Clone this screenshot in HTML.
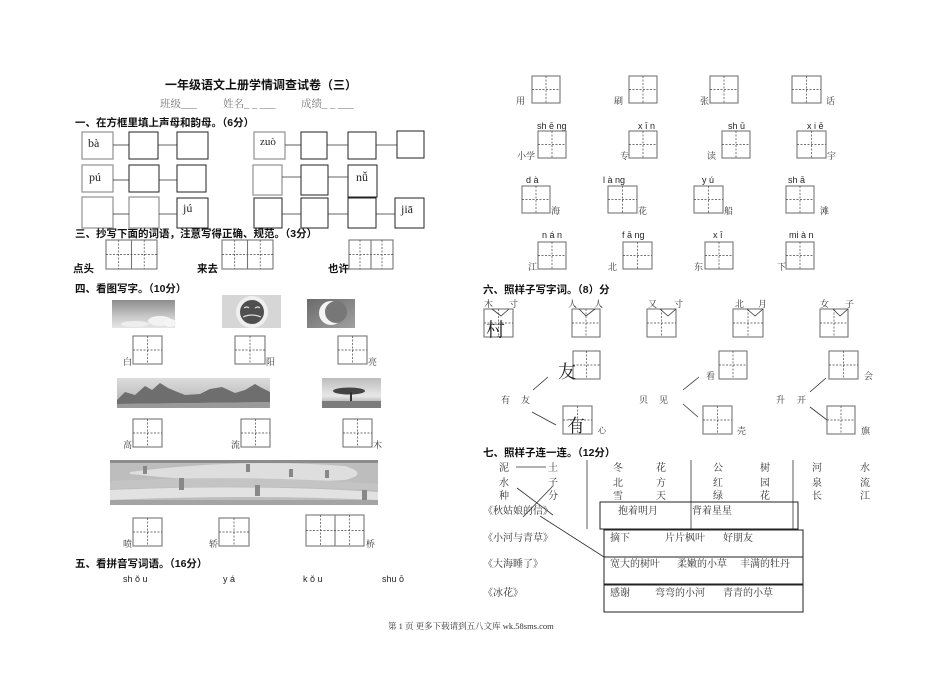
<!DOCTYPE html>
<html><head><meta charset="utf-8">
<style>
html,body{margin:0;padding:0;background:#fff;}
svg{display:block;}
.t{font-family:"Liberation Serif","Noto Serif CJK SC",serif;fill:#222;}
.h{font-family:"Liberation Sans","Noto Sans CJK SC",sans-serif;font-weight:bold;font-size:10.5px;fill:#111;}
.s{font-family:"Liberation Serif","Noto Serif CJK SC",serif;font-size:9px;fill:#333;}
.p{font-family:"Liberation Sans","DejaVu Sans",sans-serif;font-size:9px;fill:#222;}
.py{font-family:"Liberation Serif",serif;font-size:12px;fill:#222;}
.b{fill:none;stroke:#222;stroke-width:1;}
.bg{fill:none;stroke:#999;stroke-width:1.3;}
.g{fill:none;stroke:#777;stroke-width:1.1;}
.d{stroke:#444;stroke-width:0.7;stroke-dasharray:2,1.5;}
.l{stroke:#333;stroke-width:0.8;}
.k{font-family:"Liberation Serif","Noto Serif CJK SC",serif;font-size:10px;fill:#333;}
</style></head>
<body>
<svg width="950" height="675" viewBox="0 0 950 675" xmlns="http://www.w3.org/2000/svg">
<defs>
<linearGradient id="sky" x1="0" y1="0" x2="0" y2="1"><stop offset="0" stop-color="#8d8d8d"/><stop offset="0.6" stop-color="#c9c9c9"/><stop offset="1" stop-color="#e6e6e6"/></linearGradient>
<linearGradient id="moonbg" x1="0" y1="0" x2="1" y2="1"><stop offset="0" stop-color="#6a6a6a"/><stop offset="1" stop-color="#a0a0a0"/></linearGradient>
<linearGradient id="treebg" x1="0" y1="0" x2="0" y2="1"><stop offset="0" stop-color="#bdbdbd"/><stop offset="0.6" stop-color="#e8e8e8"/><stop offset="1" stop-color="#8a8a8a"/></linearGradient>
<linearGradient id="land" x1="0" y1="0" x2="0" y2="1"><stop offset="0" stop-color="#dcdcdc"/><stop offset="1" stop-color="#b0b0b0"/></linearGradient>
</defs>

<!-- Title -->
<text x="165" y="89" class="t" style="font-size:12px;font-weight:bold;fill:#111;font-family:'Noto Sans CJK SC',sans-serif">一年级语文上册学情调查试卷（三）</text>
<text x="160" y="107" class="t" style="font-size:10.5px;fill:#777">班级___</text>
<text x="223" y="107" class="t" style="font-size:10.5px;fill:#777">姓名_ _ ___</text>
<text x="301" y="107" class="t" style="font-size:10.5px;fill:#777">成绩_ _ ___</text>

<!-- Section 1 -->
<text x="75" y="126" class="h">一、在方框里填上声母和韵母。（6分）</text>
<rect x="82" y="132" width="31" height="27" class="bg"/><text x="88" y="147" class="py">bà</text>
<rect x="129" y="132" width="29" height="27" class="b"/>
<rect x="177" y="132" width="31" height="27" class="b"/>
<line x1="113" y1="145" x2="129" y2="145" class="l"/><line x1="158" y1="145" x2="177" y2="145" class="l"/>
<rect x="254" y="132" width="31" height="27" class="bg"/><text x="260" y="145" class="py" style="font-size:11px">zuò</text>
<rect x="301" y="132" width="26" height="27" class="b"/>
<rect x="348" y="132" width="28" height="27" class="b"/>
<rect x="397" y="131" width="27" height="27" class="b"/>
<line x1="285" y1="145" x2="301" y2="145" class="l"/><line x1="327" y1="145" x2="348" y2="145" class="l"/><line x1="376" y1="145" x2="397" y2="145" class="l"/>
<rect x="82" y="165" width="31" height="27" class="bg"/><text x="89" y="181" class="py">pú</text>
<rect x="129" y="165" width="30" height="27" class="b"/>
<rect x="177" y="165" width="29" height="27" class="b"/>
<line x1="113" y1="180" x2="129" y2="180" class="l"/><line x1="159" y1="180" x2="177" y2="180" class="l"/>
<rect x="253" y="165" width="29" height="30" class="bg"/>
<rect x="301" y="165" width="27" height="30" class="b"/>
<rect x="348" y="165" width="29" height="32" class="b"/><text x="356" y="181" class="py">nǚ</text>
<line x1="282" y1="177" x2="301" y2="177" class="l"/><line x1="328" y1="177" x2="348" y2="177" class="l"/>
<rect x="82" y="197" width="31" height="31" class="bg"/>
<rect x="129" y="197" width="30" height="31" class="bg"/>
<rect x="177" y="198" width="31" height="30" class="b"/><text x="183" y="212" class="py">jú</text>
<line x1="113" y1="214" x2="129" y2="214" class="l"/><line x1="159" y1="214" x2="177" y2="214" class="l"/>
<rect x="254" y="198" width="28" height="30" class="b"/>
<rect x="301" y="198" width="27" height="30" class="b"/>
<rect x="348" y="198" width="28" height="30" class="b"/>
<rect x="395" y="198" width="29" height="30" class="b"/><text x="401" y="213" class="py">jiā</text>
<line x1="282" y1="214" x2="301" y2="214" class="l"/><line x1="328" y1="214" x2="348" y2="214" class="l"/><line x1="376" y1="214" x2="395" y2="214" class="l"/>

<!-- Section 3 -->
<text x="75" y="237" class="h">三、抄写下面的词语，注意写得正确、规范。（3分）</text>
<text x="73" y="272" class="h">点头</text>
<rect x="106" y="240" width="51" height="29" class="g"/><line x1="131.5" y1="240" x2="131.5" y2="269" class="g"/>
<line x1="118.7" y1="240" x2="118.7" y2="269" class="d"/><line x1="144.2" y1="240" x2="144.2" y2="269" class="d"/><line x1="106" y1="254.5" x2="157" y2="254.5" class="d"/>
<text x="197" y="272" class="h">来去</text>
<rect x="222" y="240" width="51" height="29" class="g"/><line x1="247.5" y1="240" x2="247.5" y2="269" class="g"/>
<line x1="234.7" y1="240" x2="234.7" y2="269" class="d"/><line x1="260.2" y1="240" x2="260.2" y2="269" class="d"/><line x1="222" y1="254.5" x2="273" y2="254.5" class="d"/>
<text x="328" y="272" class="h">也许</text>
<rect x="349" y="240" width="44" height="29" class="g"/><line x1="371" y1="240" x2="371" y2="269" class="g"/>
<line x1="360" y1="240" x2="360" y2="269" class="d"/><line x1="382" y1="240" x2="382" y2="269" class="d"/><line x1="349" y1="254.5" x2="393" y2="254.5" class="d"/>

<!-- Section 4 -->
<text x="75" y="292" class="h">四、看图写字。（10分）</text>
<rect x="112" y="300" width="63" height="28" fill="url(#sky)"/>
<ellipse cx="160" cy="321" rx="12" ry="5" fill="#f2f2f2"/><ellipse cx="135" cy="324" rx="14" ry="3" fill="#eee"/><ellipse cx="170" cy="323" rx="6" ry="4" fill="#f5f5f5"/>
<rect x="222" y="295" width="59" height="33" fill="#d6d6d6"/>
<circle cx="252" cy="312" r="16" fill="#efefef"/>
<circle cx="252" cy="312" r="12" fill="#4f4f4f"/>
<path d="M244 308 q3 -2 5 0 M255 308 q3 -2 5 0 M243 317 q9 -4 18 0" stroke="#ddd" stroke-width="1.2" fill="none"/>
<rect x="307" y="299" width="48" height="29" fill="url(#moonbg)"/>
<circle cx="331" cy="313" r="12" fill="#f4f4f4"/>
<circle cx="336" cy="312" r="11" fill="#777"/>
<rect x="133" y="336" width="29" height="28" class="g"/><line x1="147.5" y1="336" x2="147.5" y2="364" class="d"/><line x1="133" y1="350" x2="162" y2="350" class="d"/>
<text x="123" y="365" class="s">白</text>
<rect x="235" y="336" width="30" height="28" class="g"/><line x1="250" y1="336" x2="250" y2="364" class="d"/><line x1="235" y1="350" x2="265" y2="350" class="d"/>
<text x="266" y="365" class="s">阳</text>
<rect x="338" y="336" width="29" height="28" class="g"/><line x1="352.5" y1="336" x2="352.5" y2="364" class="d"/><line x1="338" y1="350" x2="367" y2="350" class="d"/>
<text x="368" y="365" class="s">亮</text>
<rect x="117" y="378" width="153" height="30" fill="url(#land)"/>
<path d="M117 400 L125 392 L135 395 L145 386 L152 390 L160 383 L168 388 L175 391 L185 395 L200 394 L210 389 L222 387 L235 393 L245 390 L255 384 L262 388 L270 392 L270 402 L117 404 Z" fill="#6e6e6e"/>
<path d="M117 404 L270 402 L270 408 L117 408 Z" fill="#9a9a9a"/>
<rect x="322" y="378" width="59" height="30" fill="url(#treebg)"/>
<ellipse cx="349" cy="391" rx="16" ry="3.5" fill="#444"/>
<line x1="351" y1="392" x2="351" y2="402" stroke="#333" stroke-width="2"/>
<rect x="322" y="401" width="59" height="7" fill="#7c7c7c"/>
<rect x="133" y="419" width="29" height="28" class="g"/><line x1="147.5" y1="419" x2="147.5" y2="447" class="d"/><line x1="133" y1="433" x2="162" y2="433" class="d"/>
<text x="123" y="448" class="s">高</text>
<rect x="241" y="419" width="29" height="28" class="g"/><line x1="255.5" y1="419" x2="255.5" y2="447" class="d"/><line x1="241" y1="433" x2="270" y2="433" class="d"/>
<text x="231" y="448" class="s">流</text>
<rect x="343" y="419" width="29" height="28" class="g"/><line x1="357.5" y1="419" x2="357.5" y2="447" class="d"/><line x1="343" y1="433" x2="372" y2="433" class="d"/>
<text x="373" y="448" class="s">木</text>
<rect x="110" y="460" width="268" height="45" fill="#bdbdbd"/>
<path d="M130 472 Q240 458 345 466 Q370 474 345 480 Q240 486 130 474 Z" fill="#dedede"/>
<path d="M110 481 Q250 474 378 484 L378 490 Q250 484 110 489 Z" fill="#c4c4c4"/>
<path d="M110 490 Q250 484 378 492 L378 500 Q250 494 110 500 Z" fill="#e2e2e2"/>
<rect x="110" y="460" width="268" height="3" fill="#8c8c8c"/>
<rect x="179" y="478" width="5" height="12" fill="#888"/><rect x="255" y="485" width="5" height="11" fill="#888"/><rect x="143" y="466" width="4" height="8" fill="#888"/><rect x="246" y="464" width="4" height="8" fill="#888"/><rect x="289" y="469" width="4" height="8" fill="#888"/><rect x="325" y="470" width="4" height="8" fill="#888"/><rect x="362" y="490" width="5" height="12" fill="#888"/>
<rect x="110" y="500" width="268" height="5" fill="#a4a4a4"/>
<rect x="133" y="518" width="29" height="28" class="g"/><line x1="147.5" y1="518" x2="147.5" y2="546" class="d"/><line x1="133" y1="532" x2="162" y2="532" class="d"/>
<text x="123" y="547" class="s">喷</text>
<rect x="219" y="518" width="30" height="28" class="g"/><line x1="234" y1="518" x2="234" y2="546" class="d"/><line x1="219" y1="532" x2="249" y2="532" class="d"/>
<text x="209" y="547" class="s">轿</text>
<rect x="306" y="515" width="58" height="31" class="g"/><line x1="335" y1="515" x2="335" y2="546" class="g"/>
<line x1="320.5" y1="515" x2="320.5" y2="546" class="d"/><line x1="349.5" y1="515" x2="349.5" y2="546" class="d"/><line x1="306" y1="530.5" x2="364" y2="530.5" class="d"/>
<text x="366" y="547" class="s">桥</text>

<!-- Section 5 -->
<text x="75" y="567" class="h">五、看拼音写词语。（16分）</text>
<text x="123" y="582" class="p">sh ǒ u</text>
<text x="223" y="582" class="p">y á</text>
<text x="303" y="582" class="p">k ǒ u</text>
<text x="382" y="582" class="p">shu ō</text>

<!-- Right column grids -->
<rect x="532" y="76" width="28" height="27" class="g"/><line x1="546" y1="76" x2="546" y2="103" class="d"/><line x1="532" y1="89.5" x2="560" y2="89.5" class="d"/>
<text x="516" y="104" class="s">用</text>
<rect x="629" y="76" width="28" height="27" class="g"/><line x1="643" y1="76" x2="643" y2="103" class="d"/><line x1="629" y1="89.5" x2="657" y2="89.5" class="d"/>
<text x="614" y="104" class="s">刷</text>
<rect x="710" y="76" width="28" height="27" class="g"/><line x1="724" y1="76" x2="724" y2="103" class="d"/><line x1="710" y1="89.5" x2="738" y2="89.5" class="d"/>
<text x="700" y="104" class="s">张</text>
<rect x="792" y="76" width="29" height="27" class="g"/><line x1="806.5" y1="76" x2="806.5" y2="103" class="d"/><line x1="792" y1="89.5" x2="821" y2="89.5" class="d"/>
<text x="826" y="104" class="s">话</text>
<text x="537" y="129" class="p">sh ē ng</text>
<rect x="538" y="131" width="28" height="27" class="g"/><line x1="552" y1="131" x2="552" y2="158" class="d"/><line x1="538" y1="144.5" x2="566" y2="144.5" class="d"/>
<text x="517" y="159" class="s">小学</text>
<text x="638" y="129" class="p">x ī n</text>
<rect x="629" y="131" width="28" height="27" class="g"/><line x1="643" y1="131" x2="643" y2="158" class="d"/><line x1="629" y1="144.5" x2="657" y2="144.5" class="d"/>
<text x="620" y="159" class="s">专</text>
<text x="728" y="129" class="p">sh ū</text>
<rect x="722" y="131" width="28" height="27" class="g"/><line x1="736" y1="131" x2="736" y2="158" class="d"/><line x1="722" y1="144.5" x2="750" y2="144.5" class="d"/>
<text x="707" y="159" class="s">读</text>
<text x="807" y="129" class="p">x i ē</text>
<rect x="797" y="131" width="29" height="27" class="g"/><line x1="811.5" y1="131" x2="811.5" y2="158" class="d"/><line x1="797" y1="144.5" x2="826" y2="144.5" class="d"/>
<text x="827" y="159" class="s">宇</text>
<text x="526" y="183" class="p">d à</text>
<rect x="522" y="186" width="28" height="27" class="g"/><line x1="536" y1="186" x2="536" y2="213" class="d"/><line x1="522" y1="199.5" x2="550" y2="199.5" class="d"/>
<text x="551" y="214" class="s">海</text>
<text x="603" y="183" class="p">l à ng</text>
<rect x="608" y="186" width="29" height="27" class="g"/><line x1="622.5" y1="186" x2="622.5" y2="213" class="d"/><line x1="608" y1="199.5" x2="637" y2="199.5" class="d"/>
<text x="638" y="214" class="s">花</text>
<text x="702" y="183" class="p">y ú</text>
<rect x="694" y="186" width="29" height="27" class="g"/><line x1="708.5" y1="186" x2="708.5" y2="213" class="d"/><line x1="694" y1="199.5" x2="723" y2="199.5" class="d"/>
<text x="724" y="214" class="s">船</text>
<text x="788" y="183" class="p">sh ā</text>
<rect x="786" y="186" width="28" height="27" class="g"/><line x1="800" y1="186" x2="800" y2="213" class="d"/><line x1="786" y1="199.5" x2="814" y2="199.5" class="d"/>
<text x="820" y="214" class="s">滩</text>
<text x="542" y="238" class="p">n á n</text>
<rect x="538" y="242" width="28" height="27" class="g"/><line x1="552" y1="242" x2="552" y2="269" class="d"/><line x1="538" y1="255.5" x2="566" y2="255.5" class="d"/>
<text x="528" y="270" class="s">江</text>
<text x="622" y="238" class="p">f ā ng</text>
<rect x="623" y="242" width="29" height="27" class="g"/><line x1="637.5" y1="242" x2="637.5" y2="269" class="d"/><line x1="623" y1="255.5" x2="652" y2="255.5" class="d"/>
<text x="608" y="270" class="s">北</text>
<text x="713" y="238" class="p">x ī</text>
<rect x="705" y="242" width="28" height="27" class="g"/><line x1="719" y1="242" x2="719" y2="269" class="d"/><line x1="705" y1="255.5" x2="733" y2="255.5" class="d"/>
<text x="694" y="270" class="s">东</text>
<text x="789" y="238" class="p">mi à n</text>
<rect x="786" y="242" width="28" height="27" class="g"/><line x1="800" y1="242" x2="800" y2="269" class="d"/><line x1="786" y1="255.5" x2="814" y2="255.5" class="d"/>
<text x="777" y="270" class="s">下</text>

<!-- Section 6 -->
<text x="483" y="293" class="h">六、照样子写字词。（8）分</text>
<text x="484" y="307" class="s">木</text><text x="509" y="307" class="s">寸</text>
<text x="568" y="307" class="s">人</text><text x="594" y="307" class="s">人</text>
<text x="648" y="307" class="s">又</text><text x="674" y="307" class="s">寸</text>
<text x="735" y="307" class="s">北</text><text x="758" y="307" class="s">月</text>
<text x="820" y="307" class="s">女</text><text x="845" y="307" class="s">子</text>
<rect x="484" y="309" width="29" height="28" class="g"/><line x1="498.5" y1="309" x2="498.5" y2="337" class="d"/><line x1="484" y1="323" x2="513" y2="323" class="d"/>
<polyline points="492,309 501,316 509,309" fill="none" stroke="#333" stroke-width="0.8"/>
<text x="486" y="336" class="t" style="font-size:19px;fill:#222">村</text>
<rect x="572" y="309" width="28" height="28" class="g"/><line x1="586" y1="309" x2="586" y2="337" class="d"/><line x1="572" y1="323" x2="600" y2="323" class="d"/>
<polyline points="579,309 586,316 595,309" fill="none" stroke="#333" stroke-width="0.8"/>
<rect x="647" y="309" width="29" height="28" class="g"/><line x1="661.5" y1="309" x2="661.5" y2="337" class="d"/><line x1="647" y1="323" x2="676" y2="323" class="d"/>
<polyline points="660,309 668,316 676,309" fill="none" stroke="#333" stroke-width="0.8"/>
<rect x="733" y="309" width="30" height="28" class="g"/><line x1="748" y1="309" x2="748" y2="337" class="d"/><line x1="733" y1="323" x2="763" y2="323" class="d"/>
<polyline points="747,309 755,316 763,309" fill="none" stroke="#333" stroke-width="0.8"/>
<rect x="820" y="309" width="28" height="28" class="g"/><line x1="834" y1="309" x2="834" y2="337" class="d"/><line x1="820" y1="323" x2="848" y2="323" class="d"/>
<polyline points="833,309 840,316 848,309" fill="none" stroke="#333" stroke-width="0.8"/>
<rect x="573" y="351" width="27" height="28" class="g"/><line x1="586.5" y1="351" x2="586.5" y2="379" class="d"/><line x1="573" y1="365" x2="600" y2="365" class="d"/>
<text x="558" y="378" class="t" style="font-size:18px;fill:#222">友</text>
<text x="501" y="403" class="s">有</text><text x="521" y="403" class="s">友</text>
<line x1="533" y1="390" x2="548" y2="377" class="l"/>
<line x1="532" y1="412" x2="556" y2="425" class="l"/>
<rect x="563" y="406" width="29" height="28" class="g"/><line x1="577.5" y1="406" x2="577.5" y2="434" class="d"/><line x1="563" y1="420" x2="592" y2="420" class="d"/>
<text x="567" y="432" class="t" style="font-size:18px;fill:#222">有</text>
<text x="598" y="433" class="s" style="font-size:8px">心</text>
<text x="639" y="403" class="s">贝</text><text x="659" y="403" class="s">见</text>
<line x1="683" y1="390" x2="699" y2="377" class="l"/>
<line x1="683" y1="404" x2="698" y2="417" class="l"/>
<text x="706" y="379" class="s">看</text>
<rect x="719" y="351" width="28" height="28" class="g"/><line x1="733" y1="351" x2="733" y2="379" class="d"/><line x1="719" y1="365" x2="747" y2="365" class="d"/>
<rect x="703" y="406" width="29" height="28" class="g"/><line x1="717.5" y1="406" x2="717.5" y2="434" class="d"/><line x1="703" y1="420" x2="732" y2="420" class="d"/>
<text x="737" y="434" class="s">壳</text>
<text x="776" y="403" class="s">升</text><text x="797" y="403" class="s">开</text>
<line x1="810" y1="392" x2="826" y2="378" class="l"/>
<line x1="810" y1="407" x2="827" y2="420" class="l"/>
<rect x="829" y="351" width="29" height="28" class="g"/><line x1="843.5" y1="351" x2="843.5" y2="379" class="d"/><line x1="829" y1="365" x2="858" y2="365" class="d"/>
<text x="864" y="379" class="s">会</text>
<rect x="827" y="406" width="28" height="28" class="g"/><line x1="841" y1="406" x2="841" y2="434" class="d"/><line x1="827" y1="420" x2="855" y2="420" class="d"/>
<text x="861" y="434" class="s">旗</text>

<!-- Section 7 -->
<text x="483" y="456" class="h">七、照样子连一连。（12分）</text>
<g class="k">
<text x="499" y="471">泥</text><text x="548" y="471">土</text>
<text x="499" y="486">水</text><text x="548" y="486">子</text>
<text x="499" y="499">种</text><text x="548" y="499">分</text>
<text x="613" y="471">冬</text><text x="656" y="471">花</text>
<text x="613" y="486">北</text><text x="656" y="486">方</text>
<text x="613" y="499">雪</text><text x="656" y="499">天</text>
<text x="713" y="471">公</text><text x="760" y="471">树</text>
<text x="713" y="486">红</text><text x="760" y="486">园</text>
<text x="713" y="499">绿</text><text x="760" y="499">花</text>
<text x="812" y="471">河</text><text x="860" y="471">水</text>
<text x="812" y="486">泉</text><text x="860" y="486">流</text>
<text x="812" y="499">长</text><text x="860" y="499">江</text>
<text x="483" y="514">《秋姑娘的信》</text>
<text x="483" y="541">《小河与青草》</text>
<text x="483" y="567">《大海睡了》</text>
<text x="483" y="596">《冰花》</text>
<text x="618" y="514">抱着明月</text><text x="692" y="514">背着星星</text>
<text x="610" y="541">摘下</text><text x="665" y="541">片片枫叶</text><text x="723" y="541">好朋友</text>
<text x="610" y="567">宽大的树叶</text><text x="677" y="567">柔嫩的小草</text><text x="740" y="567">丰满的牡丹</text>
<text x="610" y="596">感谢</text><text x="655" y="596">弯弯的小河</text><text x="723" y="596">青青的小草</text>
</g>
<line x1="516" y1="467" x2="546" y2="467" class="l"/>
<line x1="517" y1="488" x2="553" y2="515" class="l"/>
<line x1="552" y1="487" x2="523" y2="517" class="l"/>
<line x1="540" y1="516" x2="604" y2="557" class="l"/>
<line x1="587" y1="460" x2="587" y2="529" class="l"/>
<line x1="691" y1="460" x2="691" y2="529" class="l"/>
<line x1="793" y1="460" x2="793" y2="530" class="l"/>
<rect x="600" y="502" width="198" height="27" class="b"/>
<rect x="604" y="530" width="199" height="27" class="b"/>
<rect x="604" y="557" width="199" height="27" class="b"/>
<rect x="604" y="585" width="199" height="27" class="b"/>

<!-- Footer -->
<text x="388" y="629" class="t" style="font-size:8.5px;fill:#333">第 1 页 更多下载请到五八文库 wk.58sms.com</text>
</svg>
</body></html>
